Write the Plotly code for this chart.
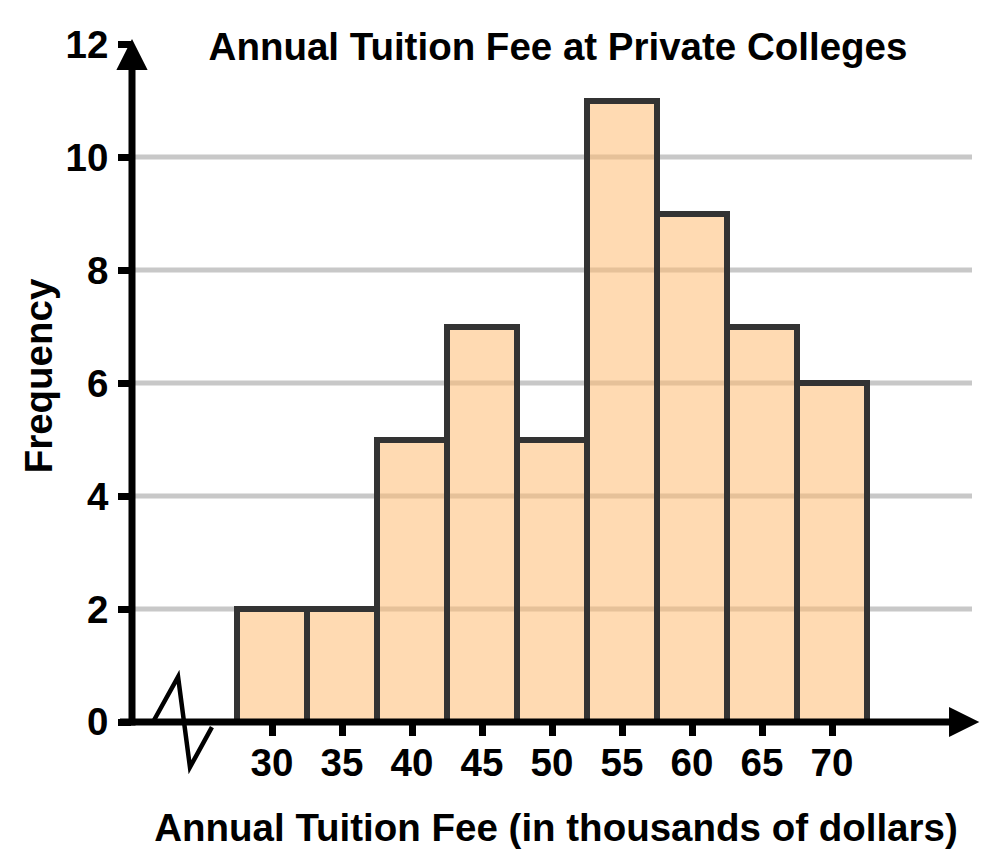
import plotly.graph_objects as go

# ---- data ----
fee_centers = [30, 35, 40, 45, 50, 55, 60, 65, 70]   # thousands of dollars
frequency = [2, 2, 5, 7, 5, 11, 9, 7, 6]
bin_width = 5
x_tick_vals = [30, 35, 40, 45, 50, 55, 60, 65, 70]
y_tick_vals = [0, 2, 4, 6, 8, 10, 12]
grid_vals = [2, 4, 6, 8, 10]

title_text = "Annual Tuition Fee at Private Colleges"
x_title = "Annual Tuition Fee (in thousands of dollars)"
y_title = "Frequency"

# axis ranges (data units)
X0, X1 = 20, 80.571
Y0, Y1 = 0, 12.25

def xp(v):
    return (v - X0) / (X1 - X0)

def yp(v):
    return (v - Y0) / (Y1 - Y0)

FONT = "Liberation Sans, Arial, sans-serif"
FS = 38.5

fig = go.Figure()
fig.add_trace(go.Bar(
    x=fee_centers, y=frequency, width=bin_width,
    marker=dict(color="rgba(255,188,115,0.55)",
                line=dict(color="#333333", width=6)),
    hoverinfo="x+y",
))

shapes = []
# gridlines
for g in grid_vals:
    shapes.append(dict(type="line", xref="x", yref="y", layer="below",
                       x0=X0, x1=80.0, y0=g, y1=g,
                       line=dict(color="#c8c8c8", width=5)))
# y axis line + arrow
shapes.append(dict(type="line", xref="paper", yref="paper",
                   x0=xp(20), x1=xp(20), y0=yp(-0.06), y1=yp(11.7),
                   line=dict(color="black", width=7)))
shapes.append(dict(type="path", xref="paper", yref="paper",
                   path=f"M {xp(19.0)} {yp(11.56)} L {xp(21.0)} {yp(11.56)} L {xp(20)} {yp(12.05)} Z",
                   fillcolor="black", line=dict(color="black", width=2)))
# x axis line + arrow
shapes.append(dict(type="line", xref="paper", yref="paper",
                   x0=xp(19.14), x1=xp(78.6), y0=yp(0), y1=yp(0),
                   line=dict(color="black", width=7)))
shapes.append(dict(type="path", xref="paper", yref="paper",
                   path=f"M {xp(78.43)} {yp(0.235)} L {xp(78.43)} {yp(-0.235)} L {xp(80.36)} {yp(0)} Z",
                   fillcolor="black", line=dict(color="black", width=2)))
# axis break zigzag
zig = [(21.5, 0.0), (23.29, 0.80), (24.14, -0.80), (25.71, -0.09)]
path = "M " + " L ".join(f"{xp(a)} {yp(b)}" for a, b in zig)
shapes.append(dict(type="path", xref="paper", yref="paper", path=path,
                   line=dict(color="black", width=4.5)))

fig.update_layout(
    width=1000, height=862,
    margin=dict(l=132, r=20, t=30, b=140),
    plot_bgcolor="white", paper_bgcolor="white",
    showlegend=False,
    font=dict(family=FONT, size=FS, color="black", weight="bold"),
    title=dict(text=title_text, x=0.558, xanchor="center",
               y=1 - 47 / 862, yanchor="middle", yref="container",
               font=dict(size=FS, weight="bold")),
    xaxis=dict(range=[X0, X1], tickvals=x_tick_vals, ticks="outside",
               ticklen=13, tickwidth=7, tickcolor="black",
               ticklabelstandoff=-6,
               showgrid=False, zeroline=False, showline=False,
               tickfont=dict(size=FS, weight="bold"),
               title=dict(text=x_title, standoff=30,
                          font=dict(size=FS, weight="bold"))),
    yaxis=dict(range=[Y0, Y1], tickvals=y_tick_vals, ticks="outside",
               ticklen=13, tickwidth=7, tickcolor="black",
               ticklabelstandoff=2,
               showgrid=False, zeroline=False, showline=False,
               tickfont=dict(size=FS, weight="bold"),
               title=dict(text=y_title, standoff=0,
                          font=dict(size=FS, weight="bold"))),
    shapes=shapes,
    bargap=0,
)

fig.write_html("out.html", config={"displayModeBar": False},
               post_script="document.body.style.margin='0px';")
